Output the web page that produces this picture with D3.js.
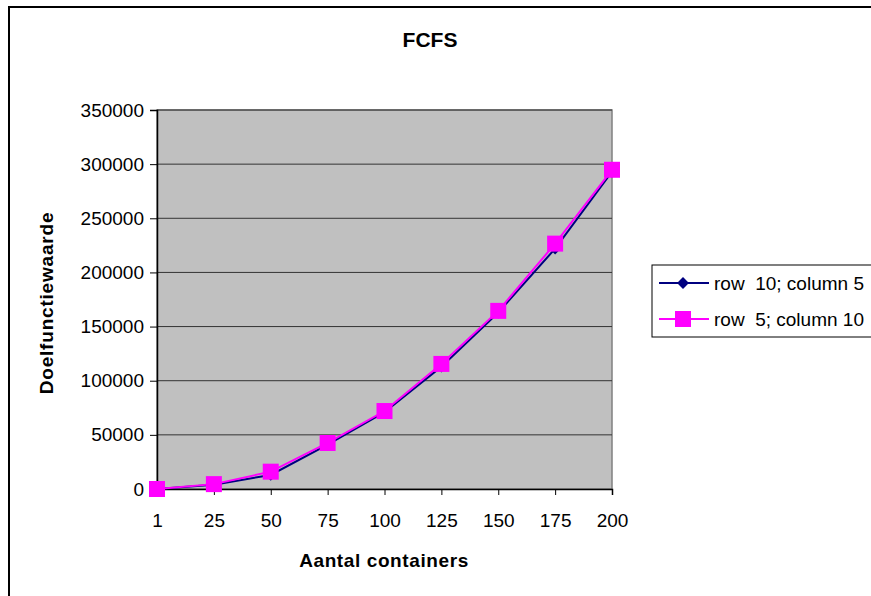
<!DOCTYPE html>
<html>
<head>
<meta charset="utf-8">
<script src="https://cdn.jsdelivr.net/npm/d3@7"></script>
<style>
  body { margin: 0; background: #fff; }
  svg { display: block; font-family: "Liberation Sans", Arial, sans-serif; }
</style>
</head>
<body>
<div id="chart"></div>
<script>
// Gegevens
const categories = ["1", "25", "50", "75", "100", "125", "150", "175", "200"];
const row10col5 = [0, 4000, 13000, 41000, 71000, 113000, 163000, 222000, 293000];
const row5col10 = [0, 4500, 16000, 42500, 72000, 115500, 164500, 226600, 294800];
const yTicks = [0, 50000, 100000, 150000, 200000, 250000, 300000, 350000];
const seriesNames = ["row  10; column 5", "row  5; column 10"];

const width = 871, height = 596;
const plot = {left: 157, right: 612, top: 110, bottom: 489};

const svg = d3.select("#chart")
    .append("svg")
    .attr("width", width)
    .attr("height", height);

// kader rond de grafiek
svg.append("rect")
    .attr("x", 9).attr("y", 7)
    .attr("width", 900).attr("height", 620)
    .attr("fill", "#fff")
    .attr("stroke", "#000")
    .attr("stroke-width", 2);

const x = d3.scalePoint()
    .domain(categories)
    .range([plot.left, plot.right]);

const y = d3.scaleLinear()
    .domain([0, 350000])
    .range([plot.bottom, plot.top]);

// plotgebied
svg.append("rect")
    .attr("x", plot.left).attr("y", plot.top)
    .attr("width", plot.right - plot.left)
    .attr("height", plot.bottom - plot.top)
    .attr("fill", "#c0c0c0")
    .attr("stroke", "#808080")
    .attr("stroke-width", 1.5);

// rasterlijnen
svg.append("g")
    .selectAll("line")
    .data(yTicks.filter(d => d > 0))
    .join("line")
    .attr("x1", plot.left).attr("x2", plot.right)
    .attr("y1", d => y(d)).attr("y2", d => y(d))
    .attr("stroke", "#333")
    .attr("stroke-width", 1);

// assen
const yAxis = svg.append("g")
    .attr("transform", `translate(${plot.left},0)`)
    .call(d3.axisLeft(y).tickValues(yTicks).tickFormat(d3.format("d")).tickSize(7).tickPadding(6));

const xAxis = svg.append("g")
    .attr("transform", `translate(0,${plot.bottom})`)
    .call(d3.axisBottom(x).tickSize(6).tickPadding(19));

[yAxis, xAxis].forEach(g => {
    g.select(".domain").attr("stroke", "#000").attr("stroke-width", 1.5);
    g.selectAll(".tick line").attr("stroke", "#000");
    g.selectAll(".tick text")
        .attr("fill", "#000")
        .style("font-size", "19px")
        .style("font-family", "'Liberation Sans', Arial, sans-serif");
});

// lijnen
const line = d3.line()
    .x((d, i) => x(categories[i]))
    .y(d => y(d));

svg.append("path")
    .datum(row10col5)
    .attr("fill", "none")
    .attr("stroke", "#000080")
    .attr("stroke-width", 2)
    .attr("d", line);

svg.append("g")
    .selectAll("path")
    .data(row10col5)
    .join("path")
    .attr("transform", (d, i) => `translate(${x(categories[i])},${y(d)})`)
    .attr("d", d3.symbol(d3.symbolDiamond2, 90))
    .attr("fill", "#000080");

svg.append("path")
    .datum(row5col10)
    .attr("fill", "none")
    .attr("stroke", "#ff00ff")
    .attr("stroke-width", 2)
    .attr("d", line);

svg.append("g")
    .selectAll("rect")
    .data(row5col10)
    .join("rect")
    .attr("x", (d, i) => x(categories[i]) - 8)
    .attr("y", d => y(d) - 8)
    .attr("width", 16).attr("height", 16)
    .attr("fill", "#ff00ff");

// titels
svg.append("text")
    .attr("x", 430).attr("y", 47)
    .attr("text-anchor", "middle")
    .style("font-size", "21px")
    .style("font-weight", "bold")
    .text("FCFS");

svg.append("text")
    .attr("x", 384).attr("y", 567)
    .attr("text-anchor", "middle")
    .style("font-size", "19px")
    .style("font-weight", "bold")
    .style("letter-spacing", "0.6px")
    .text("Aantal containers");

svg.append("text")
    .attr("transform", "translate(53,303) rotate(-90)")
    .attr("text-anchor", "middle")
    .style("font-size", "19px")
    .style("font-weight", "bold")
    .style("letter-spacing", "0.8px")
    .text("Doelfunctiewaarde");

// legenda
const legend = svg.append("g");
legend.append("rect")
    .attr("x", 652).attr("y", 265)
    .attr("width", 240).attr("height", 72)
    .attr("fill", "#fff")
    .attr("stroke", "#000")
    .attr("stroke-width", 1);

const legendY = [283, 319];
const colors = ["#000080", "#ff00ff"];
seriesNames.forEach((name, i) => {
    legend.append("line")
        .attr("x1", 659).attr("x2", 709)
        .attr("y1", legendY[i]).attr("y2", legendY[i])
        .attr("stroke", colors[i])
        .attr("stroke-width", 2);
    if (i === 0) {
        legend.append("path")
            .attr("transform", `translate(683,${legendY[i]})`)
            .attr("d", d3.symbol(d3.symbolDiamond2, 90))
            .attr("fill", colors[i]);
    } else {
        legend.append("rect")
            .attr("x", 675).attr("y", legendY[i] - 8)
            .attr("width", 16).attr("height", 16)
            .attr("fill", colors[i]);
    }
    legend.append("text")
        .attr("x", 714).attr("y", legendY[i] + 7)
        .style("font-size", "19px")
        .style("white-space", "pre")
        .attr("xml:space", "preserve")
        .text(name);
});
</script>
</body>
</html>
